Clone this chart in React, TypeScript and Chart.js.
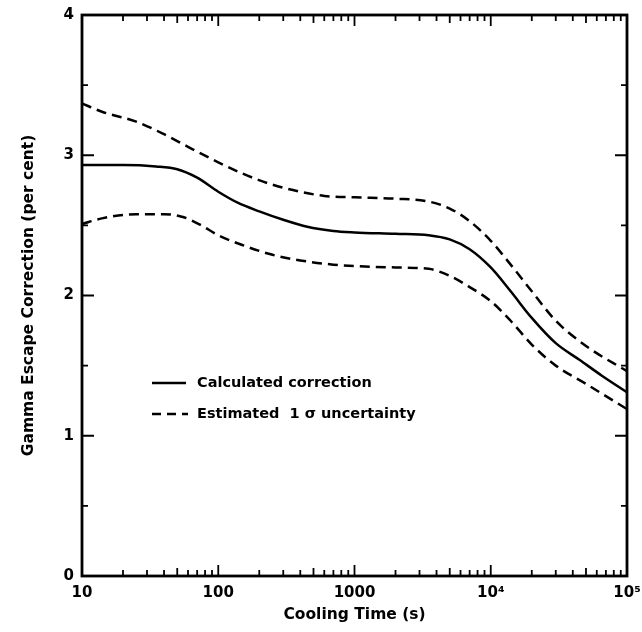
import React, { useEffect, useRef } from "react";
import { Chart, registerables } from "chart.js";

Chart.register(...registerables);

// Cooling time (s) and gamma escape correction (per cent)
const calcTimes = [10, 20, 35, 50, 70, 100, 140, 200, 300, 450, 700, 1000, 2000, 3500, 5000, 7000, 10000, 14000, 20000, 30000, 45000, 65000, 100000];
const calcValues = [2.93, 2.93, 2.92, 2.9, 2.84, 2.74, 2.66, 2.6, 2.54, 2.49, 2.46, 2.45, 2.44, 2.43, 2.4, 2.33, 2.2, 2.03, 1.84, 1.66, 1.54, 1.43, 1.31];

const upperTimes = [10, 14, 25, 40, 60, 100, 150, 250, 400, 600, 1000, 2000, 3500, 5000, 7000, 10000, 14000, 20000, 30000, 50000, 100000];
const upperValues = [3.37, 3.31, 3.24, 3.15, 3.06, 2.95, 2.87, 2.79, 2.74, 2.71, 2.7, 2.69, 2.67, 2.62, 2.53, 2.39, 2.22, 2.03, 1.82, 1.64, 1.46];

const lowerTimes = [10, 14, 25, 40, 55, 75, 100, 150, 250, 400, 700, 1000, 2000, 3500, 5000, 7000, 10000, 14000, 20000, 30000, 50000, 100000];
const lowerValues = [2.51, 2.55, 2.58, 2.58, 2.56, 2.5, 2.43, 2.36, 2.29, 2.25, 2.22, 2.21, 2.2, 2.19, 2.14, 2.06, 1.96, 1.82, 1.65, 1.5, 1.37, 1.19];

const xTickValues = [10, 100, 1000, 10000, 100000];
const xTickLabels = ["10", "100", "1000", "10\u2074", "10\u2075"];
const yTickValues = [0, 1, 2, 3, 4];

const legendLabels = ["Calculated correction", "Estimated  1 \u03c3 uncertainty"];
const xTitle = "Cooling Time (s)";
const yTitle = "Gamma Escape Correction (per cent)";

const FONT = "'DejaVu Sans', 'Liberation Sans', sans-serif";

const frameTicksPlugin = {
  id: "frameTicks",
  afterDatasetsDraw(chart: any) {
    const { ctx, chartArea, scales } = chart;
    const { left, right, top, bottom } = chartArea;
    const xs = scales.x;
    const ys = scales.y;
    ctx.save();
    ctx.strokeStyle = "#000";
    ctx.lineWidth = 2.8;
    ctx.setLineDash([]);
    ctx.strokeRect(left, top, right - left, bottom - top);
    ctx.lineWidth = 1.8;
    ctx.beginPath();
    for (let d = 1; d <= 5; d++) {
      for (let m = 1; m <= 9; m++) {
        const v = m * Math.pow(10, d);
        if (v > 100000) break;
        const px = xs.getPixelForValue(v);
        const len = m === 1 ? 11 : m === 5 ? 8 : 6;
        ctx.moveTo(px, bottom);
        ctx.lineTo(px, bottom - len);
        ctx.moveTo(px, top);
        ctx.lineTo(px, top + len);
      }
    }
    for (let v = 0; v <= 4.001; v += 0.5) {
      const py = ys.getPixelForValue(v);
      const len = Math.abs(v - Math.round(v)) < 0.01 ? 12 : 6;
      ctx.moveTo(left, py);
      ctx.lineTo(left + len, py);
      ctx.moveTo(right, py);
      ctx.lineTo(right - len, py);
    }
    ctx.stroke();

    // legend
    const lx0 = left + 70;
    const lx1 = left + 104;
    const tx = left + 115;
    const ly = [top + 368, top + 399];
    ctx.lineWidth = 2.5;
    ctx.beginPath();
    ctx.setLineDash([]);
    ctx.moveTo(lx0, ly[0]);
    ctx.lineTo(lx1, ly[0]);
    ctx.stroke();
    ctx.beginPath();
    ctx.setLineDash([9, 6]);
    ctx.moveTo(lx0, ly[1]);
    ctx.lineTo(lx1 + 2, ly[1]);
    ctx.stroke();
    ctx.setLineDash([]);
    ctx.fillStyle = "#000";
    ctx.font = `bold 14.5px ${FONT}`;
    ctx.textBaseline = "middle";
    ctx.textAlign = "left";
    ctx.fillText(legendLabels[0], tx, ly[0]);
    ctx.fillText(legendLabels[1], tx, ly[1]);
    ctx.restore();
  },
};

export default function App() {
  const ref = useRef<HTMLCanvasElement | null>(null);

  useEffect(() => {
    if (!ref.current) return;
    const mk = (ts: number[], vs: number[]) => ts.map((t, i) => ({ x: t, y: vs[i] }));
    const common = {
      borderColor: "#000",
      borderWidth: 2.5,
      pointRadius: 0,
      fill: false,
      cubicInterpolationMode: "monotone" as const,
    };
    const chart = new Chart(ref.current, {
      type: "line",
      data: {
        datasets: [
          { ...common, label: legendLabels[0], data: mk(calcTimes, calcValues) },
          { ...common, label: legendLabels[1], data: mk(upperTimes, upperValues), borderDash: [10, 6] },
          { ...common, label: "lower", data: mk(lowerTimes, lowerValues), borderDash: [10, 6] },
        ],
      },
      options: {
        animation: false,
        responsive: false,
        maintainAspectRatio: false,
        layout: { padding: { left: 20, right: 15, top: 15, bottom: 8 } },
        plugins: { legend: { display: false }, tooltip: { enabled: false } },
        scales: {
          x: {
            type: "logarithmic",
            min: 10,
            max: 100000,
            afterBuildTicks: (s: any) => {
              s.ticks = xTickValues.map((v) => ({ value: v }));
            },
            afterFit: (s: any) => {
              s.height = 48;
              s.paddingLeft = 0;
              s.paddingRight = 0;
            },
            grid: { display: false, drawTicks: false },
            border: { display: false },
            ticks: {
              autoSkip: false,
              maxRotation: 0,
              padding: 8,
              color: "#000",
              font: { family: FONT, size: 15, weight: "bold" },
              callback: (v: any) => {
                const i = xTickValues.indexOf(Number(v));
                return i >= 0 ? xTickLabels[i] : "";
              },
            },
            title: {
              display: true,
              text: xTitle,
              color: "#000",
              font: { family: FONT, size: 15.5, weight: "bold" },
              padding: { top: 0, bottom: 0 },
            },
          },
          y: {
            type: "linear",
            min: 0,
            max: 4,
            afterBuildTicks: (s: any) => {
              s.ticks = yTickValues.map((v) => ({ value: v }));
            },
            afterFit: (s: any) => {
              s.width = 62;
              s.paddingTop = 0;
              s.paddingBottom = 0;
            },
            grid: { display: false, drawTicks: false },
            border: { display: false },
            ticks: {
              padding: 8,
              color: "#000",
              font: { family: FONT, size: 15, weight: "bold" },
              callback: (v: any) => String(v),
            },
            title: {
              display: true,
              text: yTitle,
              color: "#000",
              font: { family: FONT, size: 15.5, weight: "bold" },
              padding: { top: 0, bottom: 0 },
            },
          },
        },
      },
      plugins: [frameTicksPlugin],
    });
    return () => chart.destroy();
  }, []);

  return (
    <div style={{ position: "absolute", left: 0, top: 0, width: 642, height: 632, background: "#fff" }}>
      <canvas ref={ref} width={642} height={632} style={{ display: "block" }} />
    </div>
  );
}
